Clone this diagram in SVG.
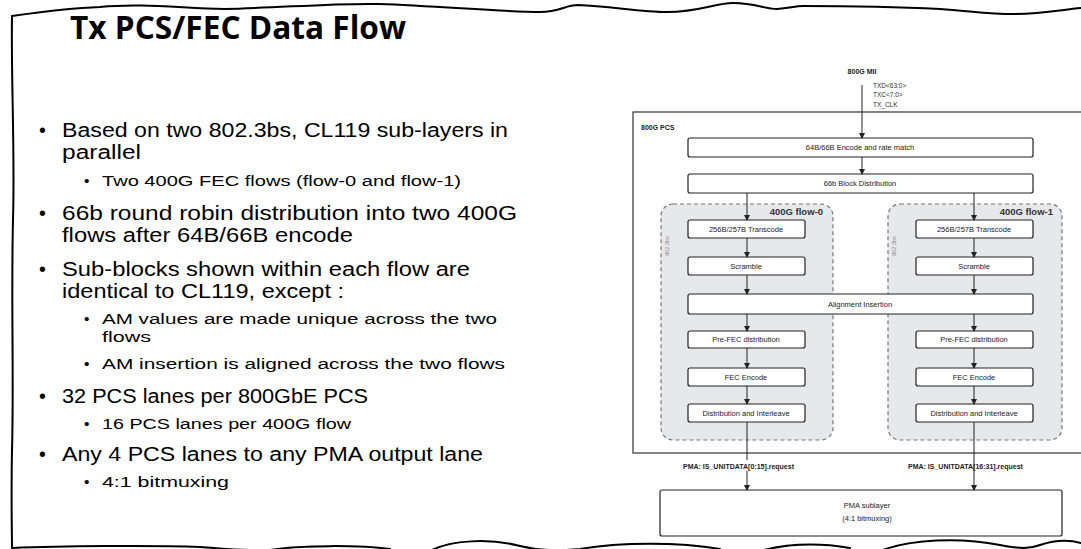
<svg xmlns="http://www.w3.org/2000/svg" width="1081" height="549" viewBox="0 0 1081 549">
<defs>
<style>
.frame{fill:none;stroke:#000;stroke-width:2;stroke-linecap:round}
.title{font-family:"Open Sans","Noto Sans",sans-serif;font-weight:bold;font-size:33px;fill:#000}
.b1{font-family:"Liberation Sans",Arial,sans-serif;font-size:19.5px;fill:#000}
.b2{font-family:"Liberation Sans",Arial,sans-serif;font-size:15.5px;fill:#000}
.box{fill:#fff;stroke:#222;stroke-width:1.2}
.flow{fill:#e6e8ec;stroke:#777;stroke-width:1.2;stroke-dasharray:4 3}
.t{font-family:"Liberation Sans",Arial,sans-serif;font-size:7.5px;fill:#222;text-anchor:middle}
.tb{font-family:"Liberation Sans",Arial,sans-serif;font-size:7px;font-weight:bold;fill:#222}
.fl{font-family:"Liberation Sans",Arial,sans-serif;font-size:9.5px;font-weight:bold;fill:#333;text-anchor:end}
.sm{font-family:"Liberation Sans",Arial,sans-serif;font-size:6.5px;fill:#333}
.vt{font-family:"Liberation Sans",Arial,sans-serif;font-size:5.5px;fill:#888;text-anchor:middle}
.ln{stroke:#222;stroke-width:1;fill:none;marker-end:url(#ah)}
.ln2{stroke:#222;stroke-width:1;fill:none}
</style>
<marker id="ah" markerWidth="6" markerHeight="6" refX="5" refY="3" orient="auto" markerUnits="userSpaceOnUse">
<path d="M0,0 L6,3 L0,6 z" fill="#222"/>
</marker>
</defs>
<rect width="1081" height="549" fill="#fff"/>
<g id="frame">
<path class="frame" d="M12,16 C40,12 70,8 100,7 C140,3 180,8 224,9 C280,8 330,3 379,4 C440,6 500,12 540,12 C560,12 565,5 578,5 C610,6 640,12 667,12 C700,12 715,3 733,3 C755,3 765,9 777,9 C790,8 795,6 803,6 C850,6 900,7 940,9 C970,11 990,14 1013,14 C1040,14 1060,10 1081,8"/>
<path class="frame" d="M12,16 C11,80 15,150 13,220 C11,300 14,380 12,450 C11,500 12,530 12,548"/>
<path class="frame" stroke-width="2.5" d="M12,548 C60,546 150,545 200,547 C230,549 250,551 270,550 C300,545 360,545 390,549 M430,551 C450,540 490,538 520,546 C540,551 560,551 580,549 C620,542 680,542 720,549 M760,551 C790,543 820,543 850,548 M880,551 C910,539 960,537 1000,545 C1020,549 1030,549 1040,545 C1055,540 1070,540 1081,543"/>
</g>
<g id="title"><text class="title" x="70" y="39" textLength="336" lengthAdjust="spacingAndGlyphs">Tx PCS/FEC Data Flow</text></g>
<g id="bullets">
<text class="b1" x="39" y="137">•</text>
<text class="b1" x="62" y="137" textLength="446" lengthAdjust="spacingAndGlyphs">Based on two 802.3bs, CL119 sub-layers in</text>
<text class="b1" x="62" y="159" textLength="79" lengthAdjust="spacingAndGlyphs">parallel</text>
<text class="b2" x="84" y="186">•</text>
<text class="b2" x="102" y="186" textLength="359" lengthAdjust="spacingAndGlyphs">Two 400G FEC flows (flow-0 and flow-1)</text>
<text class="b1" x="39" y="220">•</text>
<text class="b1" x="62" y="220" textLength="455" lengthAdjust="spacingAndGlyphs">66b round robin distribution into two 400G</text>
<text class="b1" x="62" y="242" textLength="291" lengthAdjust="spacingAndGlyphs">flows after 64B/66B encode</text>
<text class="b1" x="39" y="276">•</text>
<text class="b1" x="62" y="276" textLength="408" lengthAdjust="spacingAndGlyphs">Sub-blocks shown within each flow are</text>
<text class="b1" x="62" y="298" textLength="282" lengthAdjust="spacingAndGlyphs">identical to CL119, except :</text>
<text class="b2" x="84" y="324">•</text>
<text class="b2" x="102" y="324" textLength="395" lengthAdjust="spacingAndGlyphs">AM values are made unique across the two</text>
<text class="b2" x="102" y="342" textLength="49" lengthAdjust="spacingAndGlyphs">flows</text>
<text class="b2" x="84" y="369">•</text>
<text class="b2" x="102" y="369" textLength="403" lengthAdjust="spacingAndGlyphs">AM insertion is aligned across the two flows</text>
<text class="b1" x="39" y="403">•</text>
<text class="b1" x="62" y="403" textLength="306" lengthAdjust="spacingAndGlyphs">32 PCS lanes per 800GbE PCS</text>
<text class="b2" x="84" y="429">•</text>
<text class="b2" x="102" y="429" textLength="249" lengthAdjust="spacingAndGlyphs">16 PCS lanes per 400G flow</text>
<text class="b1" x="39" y="461">•</text>
<text class="b1" x="62" y="461" textLength="421" lengthAdjust="spacingAndGlyphs">Any 4 PCS lanes to any PMA output lane</text>
<text class="b2" x="84" y="487">•</text>
<text class="b2" x="102" y="487" textLength="127" lengthAdjust="spacingAndGlyphs">4:1 bitmuxing</text>
</g>
<g id="pcs">
<rect x="633" y="112" width="460" height="341" fill="#fff" stroke="#333" stroke-width="1.2"/>
<text class="tb" x="641" y="130" font-size="8">800G PCS</text>
</g>
<g id="mii">
<text class="tb" x="862" y="74" text-anchor="middle" font-size="8.5">800G MII</text>
<text class="sm" x="873" y="88">TXD&lt;63:0&gt;</text>
<text class="sm" x="873" y="97">TXC&lt;7:0&gt;</text>
<text class="sm" x="873" y="107">TX_CLK</text>
</g>
<g id="flow0">
<rect class="flow" x="661" y="204" width="172" height="236" rx="12"/>
<text class="fl" x="823" y="215">400G flow-0</text>
<text class="vt" transform="translate(669,246) rotate(-90)">802.3bs</text>
</g>
<g id="flow1">
<rect class="flow" x="888" y="204" width="174" height="236" rx="12"/>
<text class="fl" x="1053" y="215">400G flow-1</text>
<text class="vt" transform="translate(896,246) rotate(-90)">802.3bs</text>
</g>
<g id="encode"><rect class="box" x="688" y="138" width="345" height="19" rx="2"/><text class="t" x="860" y="150">64B/66B Encode and rate match</text></g>
<g id="blockdist"><rect class="box" x="688" y="174" width="345" height="19" rx="2"/><text class="t" x="860" y="186">66b Block Distribution</text></g>
<g id="transcode0"><rect class="box" x="688" y="220" width="117" height="18" rx="2"/><text class="t" x="746" y="232">256B/257B Transcode</text></g>
<g id="transcode1"><rect class="box" x="916" y="220" width="117" height="18" rx="2"/><text class="t" x="974" y="232">256B/257B Transcode</text></g>
<g id="scramble0"><rect class="box" x="688" y="257" width="117" height="18" rx="2"/><text class="t" x="746" y="269">Scramble</text></g>
<g id="scramble1"><rect class="box" x="916" y="257" width="117" height="18" rx="2"/><text class="t" x="974" y="269">Scramble</text></g>
<g id="align"><rect class="box" x="688" y="294" width="345" height="20" rx="2"/><text class="t" x="860" y="307">Alignment Insertion</text></g>
<g id="prefec0"><rect class="box" x="688" y="331" width="117" height="17" rx="2"/><text class="t" x="746" y="342">Pre-FEC distribution</text></g>
<g id="prefec1"><rect class="box" x="916" y="331" width="117" height="17" rx="2"/><text class="t" x="974" y="342">Pre-FEC distribution</text></g>
<g id="fec0"><rect class="box" x="688" y="368" width="117" height="18" rx="2"/><text class="t" x="746" y="380">FEC Encode</text></g>
<g id="fec1"><rect class="box" x="916" y="368" width="117" height="18" rx="2"/><text class="t" x="974" y="380">FEC Encode</text></g>
<g id="dist0"><rect class="box" x="688" y="404" width="117" height="18" rx="2"/><text class="t" x="746" y="416">Distribution and Interleave</text></g>
<g id="dist1"><rect class="box" x="916" y="404" width="117" height="18" rx="2"/><text class="t" x="974" y="416">Distribution and Interleave</text></g>
<g id="pma"><rect class="box" x="660" y="490" width="402" height="46" rx="2"/><text class="t" x="867" y="508" font-size="8">PMA sublayer</text><text class="t" x="867" y="521" font-size="8">(4:1 bitmuxing)</text></g>
<g id="connectors">
<line class="ln" x1="862" y1="85" x2="862" y2="138"/>
<line class="ln" x1="862" y1="157" x2="862" y2="174"/>
<line class="ln" x1="747" y1="193" x2="747" y2="220"/>
<line class="ln" x1="974" y1="193" x2="974" y2="220"/>
<line class="ln" x1="747" y1="238" x2="747" y2="257"/>
<line class="ln" x1="974" y1="238" x2="974" y2="257"/>
<line class="ln" x1="747" y1="275" x2="747" y2="294"/>
<line class="ln" x1="974" y1="275" x2="974" y2="294"/>
<line class="ln" x1="747" y1="314" x2="747" y2="331"/>
<line class="ln" x1="974" y1="314" x2="974" y2="331"/>
<line class="ln" x1="747" y1="348" x2="747" y2="368"/>
<line class="ln" x1="974" y1="348" x2="974" y2="368"/>
<line class="ln" x1="747" y1="386" x2="747" y2="404"/>
<line class="ln" x1="974" y1="386" x2="974" y2="404"/>
<line class="ln2" x1="747" y1="422" x2="747" y2="460"/>
<line class="ln" x1="747" y1="471" x2="747" y2="490"/>
<line class="ln" x1="974" y1="422" x2="974" y2="490"/>
</g>
<g id="labels">
<text class="tb" x="683" y="469" font-size="6.8">PMA: IS_UNITDATA[0:15].request</text>
<text class="tb" x="908" y="469" font-size="6.8">PMA: IS_UNITDATA[16:31].request</text>
</g>
</svg>
